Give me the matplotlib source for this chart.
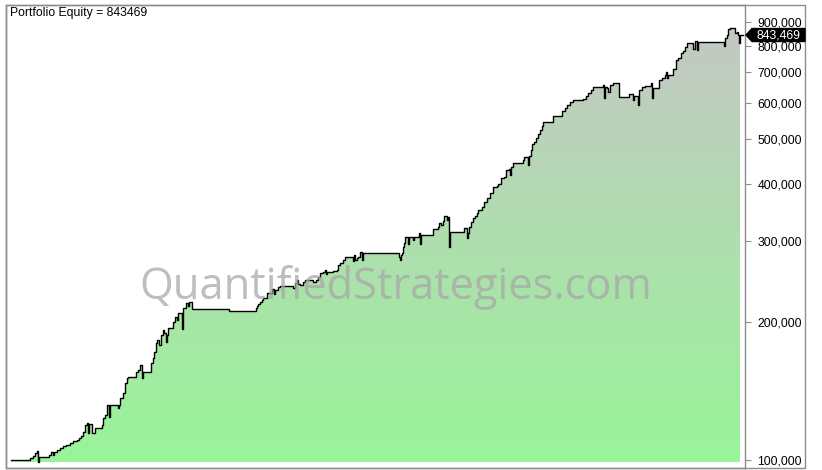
import numpy as np
import matplotlib
matplotlib.use("Agg")
import matplotlib.pyplot as plt
from matplotlib.patches import Rectangle, Polygon
from matplotlib.ticker import FixedLocator, FuncFormatter

# ---- data (bar index, equity in thousands) ----
bar = [0, 19, 22, 24, 26, 27, 28, 38, 40, 42,
       43, 46, 49, 52, 55, 59, 62, 66, 68, 70,
       72, 74, 76, 77, 78, 81, 84, 91, 92, 94,
       96, 98, 99, 107, 108, 109, 112, 114, 116, 117,
       125, 127, 129, 131, 132, 140, 142, 143, 145, 146,
       148, 150, 152, 153, 155, 156, 157, 162, 164, 166,
       167, 171, 172, 175, 177, 178, 181, 218, 245, 246,
       247, 249, 251, 252, 256, 261, 263, 264, 267, 269,
       282, 284, 286, 287, 289, 292, 294, 302, 305, 307,
       309, 312, 314, 315, 316, 322, 326, 327, 329, 332,
       334, 342, 343, 344, 346, 347, 349, 351, 352, 388,
       389, 390, 391, 392, 393, 394, 397, 398, 402, 403,
       408, 409, 410, 422, 427, 428, 430, 432, 433, 436,
       437, 438, 439, 453, 456, 457, 458, 460, 462, 464,
       466, 467, 471, 473, 476, 479, 482, 486, 487, 490,
       493, 495, 498, 499, 500, 502, 512, 513, 517, 518,
       520, 521, 523, 525, 527, 529, 531, 532, 542, 551,
       554, 556, 559, 562, 572, 575, 577, 580, 582, 592,
       593, 594, 596, 597, 599, 602, 608, 618, 622, 623,
       627, 628, 631, 634, 640, 641, 642, 648, 651, 654,
       655, 656, 657, 662, 665, 667, 670, 672, 674, 676,
       682, 684, 686, 687, 713, 714, 716, 717, 719, 724,
       726, 727, 728, 729]
equity_k = [100, 101, 102, 103.6, 104.6, 99, 101.5, 102.5, 104.1, 102.5,
            104.1, 105.1, 106.2, 107.3, 107.8, 108.9, 110, 110.6, 111.7, 112.8,
            115.1, 119.2, 120.4, 114.5, 119.8, 114.5, 117.4, 119.2, 123.5, 125.3,
            131.8, 124, 131.8, 129.9, 131.8, 136.5, 140, 147.2, 150.9, 151.7,
            155.5, 157.1, 161.1, 150.9, 155.5, 162.7, 166.9, 171.9, 179.9, 182.6,
            178.1, 187.3, 192.1, 189, 180.8, 187.3, 194.1, 200, 205.2, 202.1,
            209.4, 193.1, 214.5, 220, 216.7, 221.2, 213.4, 211.2, 214.5, 216.7,
            218.9, 221.2, 223.3, 225.6, 231.3, 236, 230.1, 234.8, 238.4, 239.6,
            237.2, 243.2, 246.9, 242, 240.8, 244.5, 246.9, 244.5, 246.9, 250.7,
            255.8, 257.1, 259.6, 254.5, 257.1, 258.3, 259.6, 266.2, 268.9, 272.9,
            277.1, 271.5, 279.8, 272.9, 275.7, 277.1, 284.1, 272.9, 282.7, 277.1,
            272.9, 279.8, 282.7, 291.3, 297.2, 306.3, 296, 306.3, 301.7, 306.3,
            312.5, 296, 309.4, 318.9, 322.1, 328.7, 325.4, 332, 340.5, 333.7,
            338.8, 291.3, 314.1, 320.5, 304.8, 312.5, 322.1, 330.4, 337.1, 340.5,
            345.6, 350.9, 356.3, 365.4, 372.9, 382.4, 394.2, 396.2, 400.2, 412.5,
            414.6, 429.5, 431.7, 418.8, 434, 444.5, 450.6, 456.3, 438.3, 458.6,
            472.8, 487.4, 492.3, 502.4, 512.6, 523, 533.6, 544.5, 561.2, 575.4,
            584.2, 593.2, 602.1, 609.6, 612.6, 621.8, 631.2, 640.7, 650.4, 656.9,
            615.6, 650.4, 647.1, 634.3, 656.9, 663.5, 618.7, 628, 609.6, 621.8,
            593.2, 640.7, 650.4, 653.6, 663.5, 615.6, 647.1, 673.5, 680.3, 690.6,
            701, 680.3, 690.6, 711.7, 744.6, 752.2, 771.3, 779.1, 795, 811.1,
            787, 819.3, 783, 815.2, 798.9, 831.8, 843.5, 870.1, 874.4, 852,
            856.4, 843.5, 811.1, 843.469]
final_equity = 843469
y_ticks = [100000, 200000, 300000, 400000, 500000, 600000, 700000, 800000, 900000]
title_text = "Portfolio Equity = 843469"
watermark = "QuantifiedStrategies.com"

x = np.array(bar, dtype=float)
y = np.array(equity_k) * 1000.0
x_ext = np.append(x, x[-1] + 3)
y_ext = np.append(y, y[-1])

W, H = 822, 470
fig = plt.figure(figsize=(W / 100, H / 100), dpi=100)
fig.patch.set_facecolor("white")

left_px, right_px, top_px, bot_px = 6, 745, 5, 468
ax = fig.add_axes([left_px / W, 1 - bot_px / H, (right_px - left_px) / W, (bot_px - top_px) / H])
ax.set_yscale("log")
ymin = 100000 * np.exp(-(468 - 460) / 199.3)
ymax = 100000 * np.exp((460 - 5) / 199.3)
base = 100000 * np.exp(-(462 - 460) / 199.3)

# gradient fill clipped by the area under the curve (fill stops at last bar)
poly = ax.fill_between(x, y, base, step="post", facecolor="none", edgecolor="none")
grad = np.linspace(0, 1, 256).reshape(-1, 1)
bottom_c = np.array([0x98, 0xF5, 0x98]) / 255
top_c = np.array([0xC6, 0xC6, 0xC6]) / 255
img = bottom_c[None, None, :] * (1 - grad[:, :, None]) + top_c[None, None, :] * grad[:, :, None]
im = ax.imshow(img, extent=[0, 1, 0, 1], transform=ax.transAxes, origin="lower",
               aspect="auto", zorder=1, interpolation="bilinear")
im.set_clip_path(poly.get_paths()[0], transform=ax.transData)
ax.set_xlim(-5, 734)
ax.set_ylim(ymin, ymax)

ax.plot(x_ext, y_ext, drawstyle="steps-post", color="black", lw=1.0, zorder=3)

for s in ["left", "top", "bottom", "right"]:
    ax.spines[s].set_color("#8c8c8c")
    ax.spines[s].set_linewidth(1)
ax.yaxis.tick_right()
ax.yaxis.set_major_locator(FixedLocator(y_ticks))
ax.yaxis.set_minor_locator(FixedLocator([]))
ax.yaxis.set_major_formatter(FuncFormatter(lambda v, p: f"{int(round(v)):,}"))
ax.tick_params(axis="y", which="major", direction="out", length=4, width=0.8,
               color="#8c8c8c", pad=5, labelsize=8.8, labelcolor="black")
for lab in ax.get_yticklabels():
    lab.set_fontfamily("Liberation Sans")
ax.set_xticks([])

fig.add_artist(Rectangle((left_px / W, 1 - bot_px / H), (805 - left_px) / W, (bot_px - top_px) / H,
                         transform=fig.transFigure, fill=False, edgecolor="#8c8c8c", lw=1, zorder=10))

ax.text(4 / (right_px - left_px), 1 - 8 / (bot_px - top_px), title_text, transform=ax.transAxes,
        ha="left", va="center", fontsize=8.8, family="Liberation Sans", color="black")

ax.text(0.528, 1 - (287 - top_px) / (bot_px - top_px), watermark, transform=ax.transAxes,
        ha="center", va="center", fontsize=31.3, family="Open Sans", color="#a8a8a8",
        alpha=0.75, zorder=5)

ydisp = ax.transData.transform((0, final_equity))[1]
yfig = ydisp / H
hh = 6.5 / H
x0 = (right_px + 1) / W
x1 = (right_px + 7) / W
x2 = 805 / W
fig.add_artist(Polygon([[x0, yfig], [x1, yfig + hh], [x2, yfig + hh], [x2, yfig - hh], [x1, yfig - hh]],
                       closed=True, transform=fig.transFigure, facecolor="black", edgecolor="black", zorder=11))
fig.text((x1 + x2) / 2, yfig, f"{final_equity:,}", ha="center", va="center", color="white",
         fontsize=8.8, family="Liberation Sans", zorder=12)

fig.savefig("out.png", dpi=100)
